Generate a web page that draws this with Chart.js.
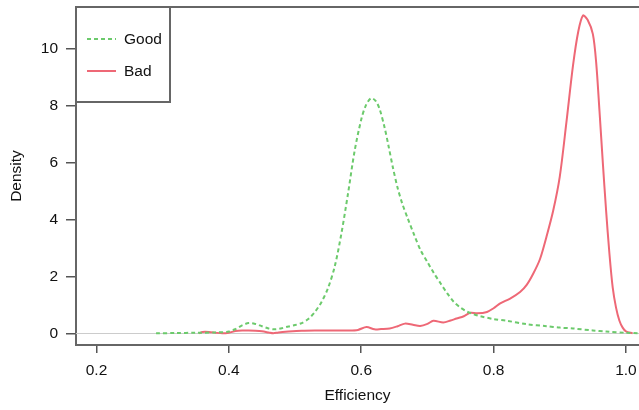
<!DOCTYPE html>
<html><head><meta charset="utf-8">
<script src="https://cdn.jsdelivr.net/npm/chart.js@4.4.1/dist/chart.umd.min.js"></script>
<style>html,body{margin:0;padding:0;background:#fff;}#wrap{width:639px;height:410px;position:relative;}</style>
</head><body><div id="wrap"><canvas id="c" width="639" height="410"></canvas></div>
<script>
const xTicks = [0.2, 0.4, 0.6, 0.8, 1.0];
const yTicks = [0, 2, 4, 6, 8, 10];
const seriesNames = ["Good", "Bad"];

const goodX = [0.29,0.32,0.35,0.38,0.40,0.41,0.42,0.43,0.44,0.45,0.46,0.47,0.48,0.49,0.50,0.51,0.52,0.53,0.54,0.55,0.56,0.57,0.58,0.59,0.60,0.607,0.615,0.622,0.628,0.635,0.641,0.648,0.655,0.662,0.67,0.68,0.69,0.70,0.71,0.72,0.73,0.74,0.75,0.76,0.77,0.78,0.80,0.82,0.85,0.88,0.90,0.92,0.95,0.97,1.00,1.02];
const goodY = [0,0.01,0.02,0.03,0.06,0.15,0.28,0.36,0.33,0.25,0.17,0.14,0.18,0.24,0.29,0.36,0.5,0.75,1.1,1.6,2.35,3.5,4.9,6.4,7.5,8.0,8.25,8.15,7.85,7.25,6.6,5.8,5.1,4.55,4.05,3.45,2.9,2.5,2.1,1.75,1.4,1.1,0.9,0.76,0.67,0.6,0.5,0.44,0.32,0.25,0.2,0.17,0.1,0.06,0.02,0.0];

const badX = [0.355,0.36,0.37,0.38,0.39,0.40,0.41,0.42,0.43,0.44,0.45,0.46,0.467,0.475,0.49,0.51,0.53,0.55,0.58,0.595,0.608,0.62,0.63,0.643,0.655,0.666,0.678,0.689,0.70,0.709,0.724,0.735,0.744,0.755,0.765,0.775,0.79,0.80,0.81,0.825,0.84,0.85,0.86,0.87,0.88,0.89,0.90,0.91,0.92,0.928,0.935,0.942,0.95,0.955,0.96,0.965,0.97,0.975,0.98,0.985,0.99,0.995,1.00,1.01];
const badY = [0,0.05,0.05,0.02,0.0,0.02,0.08,0.1,0.1,0.09,0.07,0.03,0.0,0.03,0.06,0.09,0.1,0.1,0.1,0.12,0.22,0.14,0.15,0.17,0.25,0.34,0.3,0.26,0.33,0.44,0.38,0.45,0.52,0.6,0.72,0.7,0.75,0.88,1.05,1.22,1.45,1.7,2.1,2.6,3.4,4.3,5.5,7.4,9.4,10.6,11.15,11.0,10.5,9.5,7.8,6.0,4.3,2.8,1.6,0.9,0.45,0.2,0.07,0.0];

const GREEN = 'rgb(108,202,108)';
const RED = 'rgb(238,104,118)';
const FONT = "'Liberation Sans', Arial, Helvetica, sans-serif";

const toPts = (xs, ys) => xs.map((x, i) => ({x: x, y: ys[i]}));

const framePlugin = {
  id: 'frame',
  beforeDatasetsDraw(chart) {
    const {ctx, chartArea: a, scales} = chart;
    const y0 = scales.y.getPixelForValue(0);
    ctx.save();
    ctx.strokeStyle = '#cccccc';
    ctx.lineWidth = 1;
    ctx.beginPath();
    ctx.moveTo(a.left, Math.round(y0) + 0.5);
    ctx.lineTo(a.right, Math.round(y0) + 0.5);
    ctx.stroke();
    ctx.restore();
  },
  afterDraw(chart) {
    const {ctx, chartArea: a} = chart;
    ctx.save();
    ctx.strokeStyle = '#666';
    ctx.lineWidth = 2;
    ctx.beginPath();
    ctx.moveTo(a.left, a.top);
    ctx.lineTo(a.right, a.top);
    ctx.stroke();
    // legend box
    ctx.fillStyle = '#fff';
    ctx.fillRect(a.left, a.top, 94, 95);
    ctx.strokeRect(a.left, a.top, 94, 95);
    const items = [{t: seriesNames[0], c: GREEN, d: [4, 3], y: 39}, {t: seriesNames[1], c: RED, d: [], y: 71}];
    items.forEach(it => {
      ctx.strokeStyle = it.c;
      ctx.lineWidth = 2;
      ctx.setLineDash(it.d);
      ctx.beginPath();
      ctx.moveTo(87, it.y);
      ctx.lineTo(116, it.y);
      ctx.stroke();
      ctx.setLineDash([]);
      ctx.fillStyle = '#111';
      ctx.font = '15.5px ' + FONT;
      ctx.textBaseline = 'middle';
      ctx.textAlign = 'left';
      ctx.fillText(it.t, 124, it.y + 1);
    });
    ctx.restore();
  }
};

new Chart(document.getElementById('c'), {
  type: 'line',
  data: {
    datasets: [
      {label: seriesNames[0], data: toPts(goodX, goodY), borderColor: GREEN, borderWidth: 2, borderDash: [4, 3], pointRadius: 0, tension: 0.3, fill: false},
      {label: seriesNames[1], data: toPts(badX, badY), borderColor: RED, borderWidth: 2, pointRadius: 0, tension: 0.3, fill: false}
    ]
  },
  options: {
    responsive: false,
    animation: false,
    devicePixelRatio: 1,
    layout: {padding: {top: 7, right: 0, left: 0, bottom: 0}},
    plugins: {legend: {display: false}, tooltip: {enabled: false}},
    scales: {
      x: {
        type: 'linear',
        min: 0.169, max: 1.0197,
        afterBuildTicks: s => { s.ticks = xTicks.map(v => ({value: v})); },
        afterFit: s => { s.height = 65; s.paddingLeft = 0; s.paddingRight = 0; },
        border: {display: true, color: '#666', width: 2},
        grid: {display: true, drawOnChartArea: false, drawTicks: true, tickLength: 8, color: '#555', lineWidth: 1.5},
        ticks: {color: '#111', font: {family: FONT, size: 15.5}, padding: 8, maxRotation: 0, callback: v => Number(v).toFixed(1)},
        title: {display: true, text: 'Efficiency', color: '#111', font: {family: FONT, size: 15.5}, padding: {top: 0, bottom: 4.7}}
      },
      y: {
        type: 'linear',
        min: -0.41, max: 11.45,
        afterBuildTicks: s => { s.ticks = yTicks.map(v => ({value: v})); },
        afterFit: s => { s.width = 76; s.paddingTop = 0; s.paddingBottom = 0; },
        border: {display: true, color: '#666', width: 2},
        grid: {display: true, drawOnChartArea: false, drawTicks: true, tickLength: 10, color: '#555', lineWidth: 1.5},
        ticks: {color: '#111', font: {family: FONT, size: 15.5}, padding: 8, callback: v => String(v)},
        title: {display: true, text: 'Density', color: '#111', font: {family: FONT, size: 15.5}, padding: {top: 7.7, bottom: 0}}
      }
    }
  },
  plugins: [framePlugin]
});
</script>
</body></html>
